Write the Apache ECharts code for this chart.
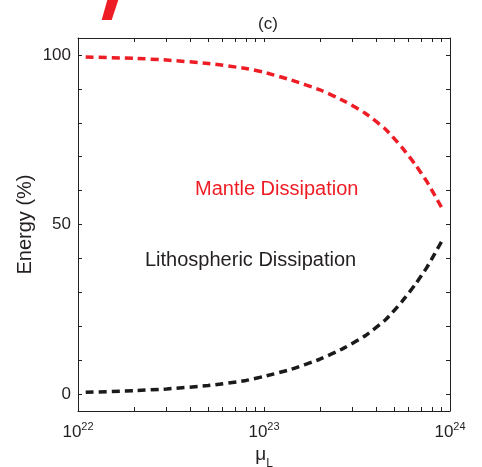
<!DOCTYPE html>
<html>
<head>
<meta charset="utf-8">
<script src="https://cdn.jsdelivr.net/npm/echarts@6/dist/echarts.min.js"></script>
<style>
  html, body { margin: 0; padding: 0; background: #fff; }
  #chart { width: 482px; height: 467px; }
</style>
</head>
<body>
<div id="chart"></div>
<script>
// Lithospheric viscosity μL (Pa s) sampled along the curves
const mu = [1.1e22, 2e22, 3e22, 5e22, 8e22, 1e23, 1.4e23, 2e23, 2.7e23, 3.5e23, 4.5e23, 5.5e23, 6.5e23, 7.5e23, 8.3e23, 9.1e23];
// Share of dissipated energy (%)
const mantle = [99.4, 99.0, 98.5, 97.5, 96.0, 94.9, 92.6, 89.7, 86.4, 82.8, 78.1, 72.8, 67.7, 62.7, 58.5, 54.6];
const lithosphere = [0.5, 1.0, 1.5, 2.5, 4.0, 5.2, 7.3, 10.3, 13.6, 17.2, 21.9, 27.2, 32.3, 37.3, 41.5, 45.4];

// Tick positions
const xTicks = [];
for (let e = 22; e < 24; e++) {
  for (let m = 1; m <= 9; m++) xTicks.push(m * Math.pow(10, e));
}
xTicks.push(1e24 * (1 - 1e-12));
// the last decade label sits a hair inside the axis end so the log scale keeps it
const xLabels = [1e22, 1e23, 1e24 * (1 - 1e-12)];
const yTicks = [0, 10, 20, 30, 40, 50, 60, 70, 80, 90, 100];
const yLabels = [0, 50, 100];

const FONT = '"Liberation Sans", Arial, Helvetica, sans-serif';
const INK = '#231f20';
const RED = '#ee1d25';

const pairs = (xs, ys) => xs.map((x, i) => [x, ys[i]]);

const chart = echarts.init(document.getElementById('chart'), null, { renderer: 'canvas' });

const frameLine = { show: true, onZero: false, lineStyle: { color: INK, width: 1 } };

chart.setOption({
  animation: false,
  backgroundColor: '#ffffff',
  grid: { left: 78, right: 32, top: 38, bottom: 56, containLabel: false, outerBoundsMode: 'none' },
  title: {
    text: '(c)',
    left: 263, top: 11, textAlign: 'center',
    textStyle: { fontFamily: FONT, fontSize: 17, fontWeight: 'normal', color: INK }
  },
  xAxis: [
    {
      type: 'log', logBase: 10, min: 1e22, max: 1e24, position: 'bottom',
      axisLine: frameLine,
      axisTick: { show: true, inside: true, length: 4, customValues: xTicks, lineStyle: { color: INK } },
      axisLabel: {
        show: true, customValues: xLabels, margin: 10, hideOverlap: false,
        showMinLabel: true, showMaxLabel: true,
        formatter: v => '{b|10}{s|' + Math.round(Math.log10(v)) + '}',
        rich: {
          b: { fontFamily: FONT, fontSize: 17, color: INK, verticalAlign: 'bottom', lineHeight: 20 },
          s: { fontFamily: FONT, fontSize: 11, color: INK, verticalAlign: 'top', lineHeight: 20, padding: [0, 0, 10, 0] }
        }
      },
      splitLine: { show: false },
      name: '{m|μ}{l|L}', nameLocation: 'middle', nameGap: 31, nameMoveOverlap: false,
      nameTextStyle: {
        rich: {
          m: { fontFamily: FONT, fontSize: 19, color: INK, verticalAlign: 'bottom', lineHeight: 22 },
          l: { fontFamily: FONT, fontSize: 12, color: INK, verticalAlign: 'bottom', lineHeight: 22, padding: [0, 0, -6, 0] }
        }
      }
    },
    {
      type: 'log', logBase: 10, min: 1e22, max: 1e24, position: 'top',
      axisLine: frameLine,
      axisTick: { show: true, inside: true, length: 4, customValues: xTicks, lineStyle: { color: INK } },
      axisLabel: { show: false },
      splitLine: { show: false }
    }
  ],
  yAxis: [
    {
      type: 'value', min: -5, max: 105, position: 'left',
      axisLine: frameLine,
      axisTick: { show: true, inside: true, length: 4, customValues: yTicks, lineStyle: { color: INK } },
      axisLabel: {
        show: true, customValues: yLabels, margin: 7,
        fontFamily: FONT, fontSize: 17, color: INK
      },
      splitLine: { show: false },
      name: 'Energy (%)', nameLocation: 'middle', nameGap: 43, nameRotate: 90, nameMoveOverlap: false,
      nameTextStyle: { fontFamily: FONT, fontSize: 20, color: INK }
    },
    {
      type: 'value', min: -5, max: 105, position: 'right',
      axisLine: frameLine,
      axisTick: { show: true, inside: true, length: 4, customValues: yTicks, lineStyle: { color: INK } },
      axisLabel: { show: false },
      splitLine: { show: false }
    }
  ],
  series: [
    {
      name: 'Mantle Dissipation', type: 'line', xAxisIndex: 0, yAxisIndex: 0,
      data: pairs(mu, mantle), smooth: 0.2, showSymbol: false,
      lineStyle: { color: RED, width: 3.5, type: [8, 5], cap: 'butt' }
    },
    {
      name: 'Lithospheric Dissipation', type: 'line', xAxisIndex: 0, yAxisIndex: 0,
      data: pairs(mu, lithosphere), smooth: 0.2, showSymbol: false,
      lineStyle: { color: '#1a1a1a', width: 3.5, type: [8, 5], cap: 'butt' }
    }
  ],
  graphic: [
    {
      type: 'text', left: 195, top: 179,
      style: { text: 'Mantle Dissipation', fill: RED, font: '20px ' + FONT }
    },
    {
      type: 'text', left: 145, top: 250,
      style: { text: 'Lithospheric Dissipation', fill: INK, font: '20px ' + FONT }
    },
    {
      // slanted red stroke at the top edge
      type: 'polygon',
      shape: { points: [[107.3, 0], [118.3, 0], [111.7, 20], [101.7, 20]] },
      style: { fill: RED }
    }
  ]
});
</script>
</body>
</html>
